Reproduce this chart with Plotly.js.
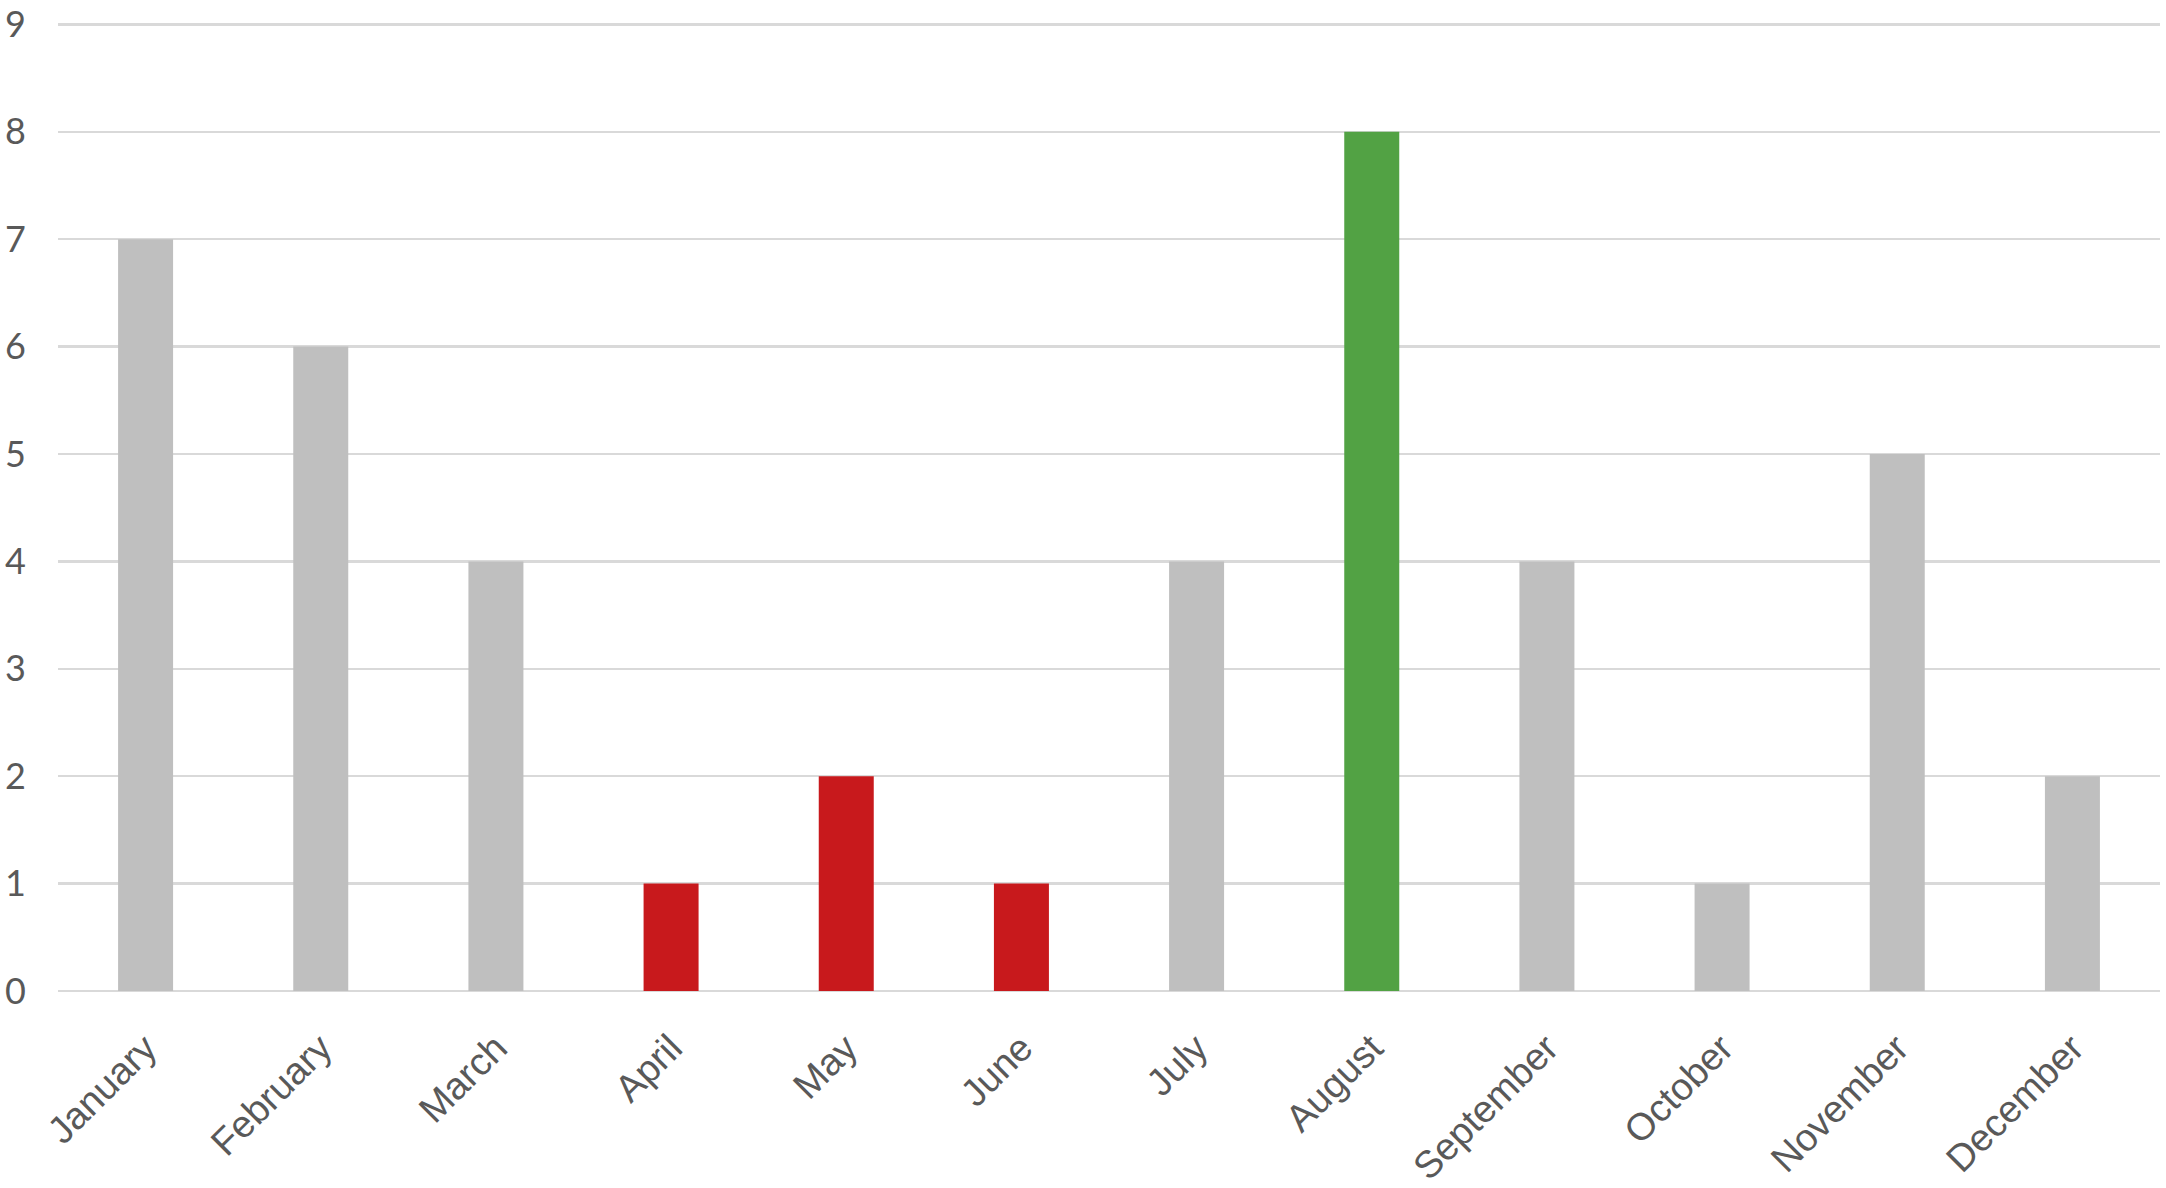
<!DOCTYPE html>
<html>
<head>
<meta charset="utf-8">
<script src="https://cdn.plot.ly/plotly-3.0.1.min.js"></script>
<style>html,body{margin:0;padding:0;background:#fff;}#chart{width:2166px;height:1188px;}</style>
</head>
<body>
<div id="chart"></div>
<script>
const months = ["January","February","March","April","May","June","July","August","September","October","November","December"];
const counts = [7,6,4,1,2,1,4,8,4,1,5,2];
const barColors = ["#BFBFBF","#BFBFBF","#BFBFBF","#C8191C","#C8191C","#C8191C","#BFBFBF","#52A244","#BFBFBF","#BFBFBF","#BFBFBF","#BFBFBF"];
const yTicks = [0,1,2,3,4,5,6,7,8,9];

Plotly.newPlot("chart", [{
  type: "bar",
  x: months,
  y: counts,
  marker: {color: barColors, line: {width: 0}},
  hoverinfo: "x+y"
}], {
  width: 2166, height: 1188,
  margin: {l: 58, r: 6, t: 19, b: 197},
  paper_bgcolor: "#fff", plot_bgcolor: "#fff",
  bargap: 0.686,
  showlegend: false,
  xaxis: {
    tickangle: -45,
    tickfont: {family: "Liberation Sans, Arial, sans-serif", size: 38, color: "#595959"},
    showgrid: false, zeroline: false, showline: false, ticks: "",
    ticklabelstandoff: 26,
    ticklabeloverflow: "allow"
  },
  yaxis: {
    range: [0, 9.05],
    tickvals: yTicks,
    ticktext: yTicks.map(String),
    tickfont: {family: "Lato, Open Sans, sans-serif", size: 36, color: "#595959"},
    showgrid: true, gridcolor: "#D9D9D9", gridwidth: 2.5,
    zeroline: true, zerolinecolor: "#D9D9D9", zerolinewidth: 2.5,
    showline: false, ticks: "",
    ticklabelstandoff: 31,
    ticklabeloverflow: "allow"
  }
}, {displayModeBar: false, staticPlot: true});
</script>
</body>
</html>
